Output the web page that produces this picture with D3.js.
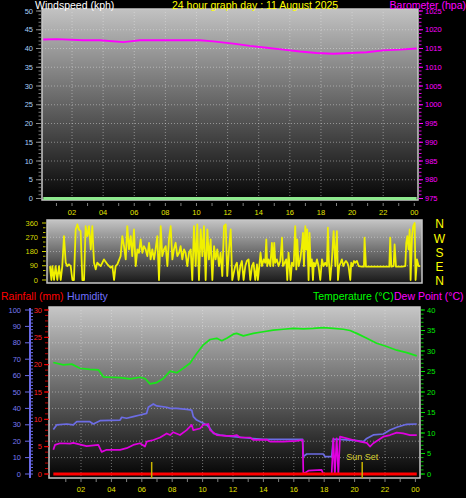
<!DOCTYPE html>
<html>
<head>
<meta charset="utf-8">
<script src="https://cdn.jsdelivr.net/npm/d3@7"></script>
<style>
body { margin: 0; background: #000; }
svg { display: block; }
text { font-family: "Liberation Sans", Arial, sans-serif; }
</style>
</head>
<body>
<svg id="chart" width="466" height="498"></svg>
<script>
// time axis
var timeLabels = ["02", "04", "06", "08", "10", "12", "14", "16", "18", "20", "22", "00"];
var timeHours = [2, 4, 6, 8, 10, 12, 14, 16, 18, 20, 22, 24];
var hourTicks = [1, 2, 3, 4, 5, 6, 7, 8, 9, 10, 11, 12, 13, 14, 15, 16, 17, 18, 19, 20, 21, 22, 23, 24];

// axis tick values
var windTicks = [0, 5, 10, 15, 20, 25, 30, 35, 40, 45, 50];
var baroTicks = [975, 980, 985, 990, 995, 1000, 1005, 1010, 1015, 1020, 1025];
var dirTicks = [0, 90, 180, 270, 360];
var compass = ["N", "W", "S", "E", "N"];
var compassDeg = [360, 270, 180, 90, 0];
var humTicks = [0, 10, 20, 30, 40, 50, 60, 70, 80, 90, 100];
var rainTicks = [0, 5, 10, 15, 20, 25, 30];
var tempTicks = [0, 5, 10, 15, 20, 25, 30, 35, 40];

// [hour, kph]
var windSpeed = [[0.15, 0], [6, 0], [12, 0], [18, 0], [24.15, 0]];

// [hour, hPa]
var barometer = [[0.15, 1017.4], [1.02, 1017.5], [2.72, 1017.2], [3.8, 1017.2], [5.3, 1016.7], [5.73, 1016.9],
    [6.37, 1017.2], [8.08, 1017.2], [10.22, 1017.2], [11.08, 1016.9], [12.37, 1016.3], [13.44, 1015.7],
    [14.51, 1015.2], [15.58, 1014.7], [16.65, 1014.2], [17.72, 1013.8], [18.79, 1013.6], [19.86, 1013.8],
    [20.94, 1014.0], [22.0, 1014.5], [23.08, 1014.7], [24.15, 1015.0]];

// [hour, degrees]
var windDir = [[0.18, 88], [0.27, 0], [0.33, 88], [0.44, 0], [0.54, 88], [0.65, 0], [0.76, 88], [0.87, 0],
    [0.97, 88], [1.08, 277], [1.19, 109], [1.29, 88], [1.40, 99], [1.51, 88], [1.62, 0], [1.72, 0],
    [1.83, 319], [1.94, 351], [2.04, 319], [2.15, 309], [2.26, 0], [2.37, 0], [2.47, 340], [2.58, 277],
    [2.69, 340], [2.80, 193], [2.90, 340], [3.01, 109], [3.12, 67], [3.22, 109], [3.44, 88], [3.65, 130],
    [3.87, 99], [4.08, 78], [4.19, 88], [4.30, 0], [4.40, 88], [4.51, 99], [4.72, 151], [4.83, 277],
    [4.94, 214], [5.05, 130], [5.15, 340], [5.26, 193], [5.37, 277], [5.47, 151], [5.58, 319], [5.69, 88],
    [5.80, 193], [5.90, 172], [6.01, 256], [6.12, 172], [6.22, 214], [6.33, 193], [6.44, 151], [6.55, 235],
    [6.65, 130], [6.76, 193], [6.87, 130], [6.97, 193], [7.08, 277], [7.19, 0], [7.30, 340], [7.40, 151],
    [7.51, 193], [7.62, 214], [7.73, 88], [7.83, 256], [7.94, 340], [8.05, 130], [8.15, 193], [8.26, 235],
    [8.37, 151], [8.48, 172], [8.58, 214], [8.69, 130], [8.80, 193], [8.90, 172], [9.01, 88], [9.12, 172],
    [9.23, 193], [9.33, 0], [9.44, 340], [9.55, 88], [9.65, 351], [9.76, 0], [9.87, 319], [9.98, 151],
    [10.08, 340], [10.19, 0], [10.30, 319], [10.40, 130], [10.51, 256], [10.62, 0], [10.73, 214], [10.83, 130],
    [10.94, 193], [11.05, 88], [11.15, 172], [11.26, 25], [11.37, 340], [11.48, 351], [11.58, 25], [11.69, 193],
    [11.80, 319], [11.90, 0], [12.09, 88], [12.20, 109], [12.31, 0], [12.42, 88], [12.52, 120], [12.63, 0],
    [12.74, 88], [12.84, 120], [12.95, 130], [13.06, 0], [13.17, 88], [13.27, 109], [13.38, 0], [13.49, 99],
    [13.55, 0], [13.64, 88], [13.72, 172], [13.81, 88], [13.92, 130], [14.02, 109], [14.09, 256], [14.15, 88],
    [14.24, 130], [14.35, 88], [14.45, 235], [14.54, 88], [14.60, 235], [14.67, 109], [14.77, 130], [14.88, 88],
    [14.99, 120], [15.10, 267], [15.16, 88], [15.27, 109], [15.37, 130], [15.44, 0], [15.52, 172], [15.59, 88],
    [15.65, 0], [15.74, 109], [15.85, 88], [15.95, 340], [16.02, 67], [16.08, 256], [16.17, 88], [16.27, 130],
    [16.38, 214], [16.45, 298], [16.51, 88], [16.60, 340], [16.66, 193], [16.72, 319], [16.81, 0], [16.87, 298],
    [16.94, 88], [17.02, 130], [17.09, 0], [17.15, 109], [17.24, 88], [17.35, 130], [17.45, 88], [17.56, 0],
    [17.67, 130], [17.77, 88], [17.88, 109], [17.99, 88], [18.05, 330], [18.12, 109], [18.20, 0], [18.31, 130],
    [18.42, 309], [18.53, 88], [18.63, 309], [18.70, 0], [18.78, 88], [18.87, 109], [18.95, 130], [19.04, 88],
    [19.13, 109], [19.21, 120], [19.30, 109], [19.38, 88], [19.49, 0], [19.55, 109], [19.64, 88], [19.73, 120],
    [19.81, 109], [19.92, 120], [20.03, 88], [20.24, 84], [20.37, 84], [20.41, 267], [20.50, 84], [20.88, 84],
    [21.31, 84], [21.74, 84], [22.00, 84], [22.06, 267], [22.13, 84], [22.28, 88], [22.34, 225], [22.43, 84],
    [22.81, 84], [23.03, 88], [23.09, 235], [23.16, 277], [23.24, 193], [23.31, 319], [23.37, 0], [23.46, 277],
    [23.54, 340], [23.63, 360], [23.69, 0], [23.78, 130], [23.88, 88], [23.99, 88]];

// [hour, °C]
var temperature = [[0.18, 27.2], [0.84, 26.6], [1.39, 26.8], [1.93, 25.8], [2.59, 25.5], [3.14, 25.4],
    [3.47, 23.7], [3.91, 23.6], [4.57, 23.5], [5.22, 23.2], [5.88, 23.6], [6.21, 23.3], [6.54, 22.0],
    [6.98, 22.3], [7.42, 23.3], [7.86, 25.1], [8.3, 24.7], [8.73, 25.8], [9.17, 27.0], [9.61, 29.4],
    [10.05, 31.5], [10.49, 32.8], [10.93, 33.1], [11.26, 32.5], [11.59, 33.1], [12.02, 34.1], [12.24, 34.3],
    [12.68, 33.7], [13.34, 34.3], [13.99, 34.7], [14.65, 35.1], [15.31, 35.3], [15.97, 35.5], [16.63, 35.4],
    [17.28, 35.5], [17.94, 35.7], [18.6, 35.5], [19.26, 35.3], [19.7, 35.0], [20.14, 34.3], [20.8, 33.1],
    [21.45, 31.9], [22.11, 31.1], [22.77, 30.2], [23.43, 29.6], [24.09, 28.8]];

// [hour, %]
var humidity = [[0.18, 27.2], [0.4, 29.9], [1.06, 30.5], [1.49, 29.9], [1.72, 31.9], [2.59, 31.9],
    [2.81, 30.5], [3.25, 32.5], [4.57, 32.9], [4.68, 34.6], [5.0, 34.0], [5.44, 35.0], [5.88, 36.0],
    [6.32, 37.0], [6.43, 40.7], [6.76, 42.7], [6.98, 41.5], [7.64, 40.7], [7.86, 40.0], [8.3, 40.0],
    [8.95, 39.4], [9.28, 39.0], [9.39, 35.0], [9.61, 32.9], [10.05, 30.9], [10.27, 29.9], [10.49, 27.8],
    [10.71, 24.8], [11.14, 23.8], [11.59, 23.2], [12.02, 22.8], [13.12, 21.8], [14.0, 21.1], [16.58, 21.1],
    [16.63, 10.6], [16.85, 12.2], [17.94, 12.2], [18.05, 10.6], [18.49, 10.6], [18.6, 21.1], [19.04, 21.1],
    [20.14, 20.3], [20.58, 19.7], [20.8, 21.7], [21.23, 23.8], [21.89, 24.4], [22.33, 26.8], [22.77, 28.5],
    [23.43, 30.3], [24.09, 30.5]];

// [hour, °C]
var dewPoint = [[0.18, 5.9], [0.29, 7.1], [0.62, 7.5], [1.28, 7.4], [1.49, 7.6], [2.37, 6.8], [3.14, 7.1],
    [3.36, 5.4], [3.69, 5.9], [4.57, 5.9], [5.0, 6.3], [5.44, 7.1], [5.88, 7.5], [6.21, 6.7], [6.32, 7.9],
    [6.76, 8.3], [7.2, 8.9], [7.64, 9.9], [7.86, 9.5], [8.07, 10.2], [8.51, 9.5], [8.95, 10.7], [9.28, 12.0],
    [9.39, 10.7], [9.83, 11.1], [10.05, 12.0], [10.38, 12.2], [10.49, 10.7], [10.93, 9.5], [11.59, 9.3],
    [12.02, 9.3], [12.24, 9.5], [12.46, 8.9], [13.12, 8.9], [13.34, 8.3], [14.22, 8.4], [14.43, 7.9],
    [15.31, 7.9], [16.19, 8.1], [16.58, 8.3], [16.63, 0], [16.96, 0.8], [17.83, 1.0], [17.94, 0], [18.49, 0],
    [18.6, 8.7], [18.7, 0], [18.82, 8.7], [18.93, 0], [19.04, 9.1], [19.91, 8.3], [20.36, 7.9], [20.8, 7.6],
    [21.01, 6.7], [21.23, 7.5], [21.56, 8.3], [21.89, 9.1], [22.33, 9.5], [22.77, 10.1], [23.2, 9.9],
    [23.64, 9.5], [24.09, 9.5]];

// [hour, mm]
var rainfall = [[0.18, 0], [6, 0], [12, 0], [18, 0], [24.09, 0]];

var sunHours = [6.65, 20.5];
var sunLabels = ["", "Sun Set"];

var svg = d3.select("#chart");
var defs = svg.append("defs");

var topBox = {left: 42, right: 418, top: 9, bottom: 200};
var midBox = {left: 47, right: 422, top: 220, bottom: 283};
var botBox = {left: 49, right: 420, top: 307, bottom: 478};

var xTop = d3.scaleLinear().domain([0, 24]).range([40.9, 414.3]);
var xMid = d3.scaleLinear().domain([0, 24]).range([47.2, 420.4]);
var xBot = d3.scaleLinear().domain([0, 24]).range([50.6, 415.4]);

var yWind = d3.scaleLinear().domain([0, 50]).range([198.5, 11]);
var yBaro = d3.scaleLinear().domain([975, 1025]).range([198.5, 11]);
var yDir = d3.scaleLinear().domain([0, 360]).range([280, 223]);
var yHum = d3.scaleLinear().domain([0, 100]).range([474, 310]);
var yRain = d3.scaleLinear().domain([0, 30]).range([474, 310]);
var yTemp = d3.scaleLinear().domain([0, 40]).range([474, 310]);

function addGradient(id, topColor, bottomColor) {
    var g = defs.append("linearGradient").attr("id", id)
        .attr("x1", 0).attr("y1", 0).attr("x2", 0).attr("y2", 1);
    g.append("stop").attr("offset", "0%").attr("stop-color", topColor);
    g.append("stop").attr("offset", "100%").attr("stop-color", bottomColor);
}

function addClip(id, box) {
    defs.append("clipPath").attr("id", id).append("rect")
        .attr("x", box.left).attr("y", box.top - 2)
        .attr("width", box.right - box.left).attr("height", box.bottom - box.top + 4);
}

addGradient("bgTop", "#c2c2c2", "#050505");
addGradient("bgMid", "#c4c4c4", "#181818");
addGradient("bgBot", "#c6c6c6", "#030303");
addClip("clipTop", topBox);
addClip("clipMid", midBox);
addClip("clipBot", botBox);

// background, dotted grid and frame of one plot
function drawFrame(box, gradId, gridY, gridX) {
    svg.append("rect")
        .attr("x", box.left).attr("y", box.top)
        .attr("width", box.right - box.left).attr("height", box.bottom - box.top)
        .attr("fill", "url(#" + gradId + ")");

    var grid = svg.append("g").attr("stroke", "#e8e8e8").attr("stroke-opacity", 0.45)
        .attr("stroke-dasharray", "1,2");
    grid.selectAll("line.h").data(gridY).enter()
        .append("line").attr("class", "h")
        .attr("x1", box.left).attr("x2", box.right)
        .attr("y1", function(d) { return d; }).attr("y2", function(d) { return d; });
    grid.selectAll("line.v").data(gridX).enter()
        .append("line").attr("class", "v")
        .attr("y1", box.top).attr("y2", box.bottom)
        .attr("x1", function(d) { return d; }).attr("x2", function(d) { return d; });

    svg.append("rect")
        .attr("x", box.left).attr("y", box.top)
        .attr("width", box.right - box.left).attr("height", box.bottom - box.top)
        .attr("fill", "none").attr("stroke", "#c8c8c8").attr("stroke-width", 1.5);
}

// small tick marks along a vertical axis
function drawTicks(values, scale, x1, x2, color) {
    svg.append("g").selectAll("line").data(values).enter()
        .append("line")
        .attr("x1", x1).attr("x2", x2)
        .attr("y1", function(d) { return scale(d); })
        .attr("y2", function(d) { return scale(d); })
        .attr("stroke", color).attr("stroke-width", 1);
}

function drawLabels(values, scale, x, anchor, color, fmt) {
    svg.append("g").selectAll("text").data(values).enter()
        .append("text")
        .attr("x", x)
        .attr("y", function(d) { return scale(d); })
        .attr("dy", "0.35em")
        .attr("text-anchor", anchor)
        .attr("font-size", "7.5px")
        .attr("fill", color)
        .text(fmt ? fmt : function(d) { return d; });
}

function drawTime(x, yLabel, yTick) {
    svg.append("g").selectAll("line").data(hourTicks).enter()
        .append("line")
        .attr("x1", function(d) { return x(d); }).attr("x2", function(d) { return x(d); })
        .attr("y1", yTick).attr("y2", yTick + 3)
        .attr("stroke", "#808080");
    svg.append("g").selectAll("text").data(timeHours).enter()
        .append("text")
        .attr("x", function(d) { return x(d); })
        .attr("y", yLabel)
        .attr("dy", "0.35em")
        .attr("text-anchor", "middle")
        .attr("font-size", "7.5px")
        .attr("fill", "#e4e400")
        .text(function(d, i) { return timeLabels[i]; });
}

function drawSeries(data, x, y, color, width, clipId) {
    svg.append("path")
        .datum(data)
        .attr("clip-path", "url(#" + clipId + ")")
        .attr("d", d3.line().x(function(d) { return x(d[0]); }).y(function(d) { return y(d[1]); }))
        .attr("fill", "none")
        .attr("stroke", color)
        .attr("stroke-width", width)
        .attr("stroke-linejoin", "round");
}

function header(txt, x, y, color, anchor) {
    svg.append("text").attr("x", x).attr("y", y)
        .attr("text-anchor", anchor || "start")
        .attr("font-size", "10.5px").attr("fill", color).text(txt);
}

// ---- top plot: windspeed and barometer
drawFrame(topBox, "bgTop", windTicks.slice(1, -1).map(yWind), timeHours.slice(0, -1).map(xTop));
drawTicks(d3.range(0, 51, 1), yWind, 38.5, 41, "#7a7a7a");
drawTicks(windTicks, yWind, 36, 41, "#8a8a8a");
drawLabels(windTicks, yWind, 33, "end", "#a8d0f8");
drawTicks(d3.range(975, 1026, 1), yBaro, 419, 421.5, "#e000e0");
drawTicks(baroTicks, yBaro, 419, 423, "#ff00ff");
drawLabels(baroTicks, yBaro, 425, "start", "#ff00ff");
drawTime(xTop, 212, 203);
drawSeries(barometer, xTop, yBaro, "#ff00ff", 2, "clipTop");
drawSeries(windSpeed, xTop, yWind, "#8ee88e", 3, "clipTop");

header("Windspeed (kph)", 35, 8.5, "#ffffff");
header("24 hour graph day : 11 August 2025", 172, 8.5, "#ffff00");
header("Barometer (hpa)", 466, 8.5, "#ff00ff", "end");

// ---- middle plot: wind direction
drawFrame(midBox, "bgMid", [yDir(90), yDir(180), yDir(270)], []);
drawTicks([30, 60, 120, 150, 210, 240, 300, 330], yDir, 43, 45.5, "#b8b800");
drawTicks(dirTicks, yDir, 42, 46, "#d0d000");
drawLabels(dirTicks, yDir, 38, "end", "#d8d800");
drawSeries(windDir, xMid, yDir, "#f0f000", 1.8, "clipMid");

svg.append("g").selectAll("text").data(compassDeg).enter()
    .append("text")
    .attr("x", 439.5)
    .attr("y", function(d) { return yDir(d); })
    .attr("dy", "0.45em")
    .attr("text-anchor", "middle")
    .attr("font-size", "12px")
    .attr("fill", "#ffff00")
    .text(function(d, i) { return compass[i]; });

// ---- bottom plot: rain, humidity, temperature, dew point
drawFrame(botBox, "bgBot", humTicks.slice(1, -1).map(yHum), timeHours.slice(0, -1).map(xBot));

svg.append("line").attr("x1", 30).attr("x2", 30).attr("y1", 308).attr("y2", 478)
    .attr("stroke", "#6a6ae8").attr("stroke-width", 2);
drawTicks(d3.range(0, 101, 2), yHum, 30, 33, "#6a6ae8");
drawTicks(humTicks, yHum, 25, 30, "#6a6ae8");
drawLabels(humTicks, yHum, 21, "end", "#7878f0");

drawTicks(d3.range(0, 31, 1), yRain, 45, 48, "#c00000");
drawTicks(rainTicks, yRain, 44, 49, "#ff0000");
drawLabels(rainTicks, yRain, 42, "end", "#ff2020");

drawTicks(d3.range(0, 41, 1), yTemp, 421, 423.5, "#00c000");
drawTicks(tempTicks, yTemp, 421, 425, "#00e000");
drawLabels(tempTicks, yTemp, 427, "start", "#00e800");

drawTime(xBot, 489, 479);

drawSeries(temperature, xBot, yTemp, "#18e818", 1.7, "clipBot");
drawSeries(humidity, xBot, yHum, "#6c6ce4", 1.7, "clipBot");
drawSeries(dewPoint, xBot, yTemp, "#e000e0", 1.7, "clipBot");
drawSeries(rainfall, xBot, yRain, "#ff0000", 3, "clipBot");

// sunrise / sunset markers
svg.append("g").selectAll("line").data(sunHours).enter()
    .append("line")
    .attr("x1", function(d) { return xBot(d); }).attr("x2", function(d) { return xBot(d); })
    .attr("y1", 462).attr("y2", 478)
    .attr("stroke", "#c8b400").attr("stroke-width", 1.5);
svg.append("g").selectAll("text").data(sunHours).enter()
    .append("text")
    .attr("x", function(d) { return xBot(d); })
    .attr("y", 460)
    .attr("text-anchor", "middle")
    .attr("font-size", "9px")
    .attr("fill", "#d8d030")
    .text(function(d, i) { return sunLabels[i]; });

header("Rainfall (mm)", 1, 300, "#ff0000");
header("Humidity", 67, 300, "#7070ff");
header("Temperature (\u00B0C)", 313, 300, "#00ff00");
header("Dew Point (\u00B0C)", 394, 300, "#ff00ff");
</script>
</body>
</html>
